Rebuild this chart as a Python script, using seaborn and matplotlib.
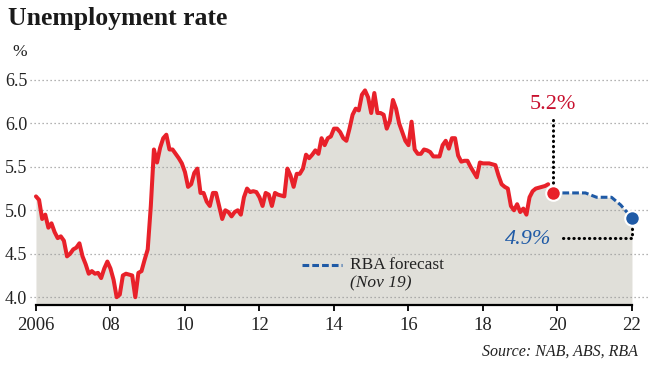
import numpy as np
import pandas as pd
import matplotlib
matplotlib.use("Agg")
import matplotlib.pyplot as plt
import seaborn as sns

# Monthly unemployment rate, Jan 2006 - Oct 2019
rate = [
    5.16, 5.12, 4.90, 4.95, 4.80, 4.85, 4.75, 4.68, 4.70, 4.65, 4.47, 4.50,  # 2006
    4.55, 4.57, 4.62, 4.47, 4.38, 4.27, 4.30, 4.27, 4.28, 4.22, 4.33, 4.41,  # 2007
    4.33, 4.20, 4.00, 4.03, 4.25, 4.27, 4.26, 4.25, 4.00, 4.28, 4.30, 4.43,  # 2008
    4.55, 5.05, 5.70, 5.55, 5.72, 5.83, 5.87, 5.70, 5.70, 5.65, 5.60, 5.54,  # 2009
    5.44, 5.27, 5.30, 5.43, 5.48, 5.20, 5.20, 5.10, 5.05, 5.20, 5.20, 5.05,  # 2010
    4.90, 5.00, 4.98, 4.93, 4.98, 5.00, 4.95, 5.15, 5.25, 5.21, 5.22, 5.21,  # 2011
    5.15, 5.05, 5.20, 5.18, 5.05, 5.20, 5.18, 5.17, 5.16, 5.48, 5.40, 5.27,  # 2012
    5.42, 5.42, 5.48, 5.64, 5.60, 5.64, 5.69, 5.65, 5.83, 5.75, 5.83, 5.85,  # 2013
    5.94, 5.94, 5.90, 5.83, 5.80, 5.94, 6.10, 6.17, 6.15, 6.33, 6.38, 6.30,  # 2014
    6.12, 6.35, 6.12, 6.12, 6.10, 5.94, 6.03, 6.27, 6.17, 6.00, 5.90, 5.80,  # 2015
    5.75, 6.02, 5.70, 5.65, 5.65, 5.70, 5.69, 5.67, 5.62, 5.62, 5.62, 5.75,  # 2016
    5.80, 5.71, 5.83, 5.83, 5.63, 5.56, 5.57, 5.57, 5.50, 5.44, 5.38, 5.55,  # 2017
    5.54, 5.54, 5.54, 5.53, 5.52, 5.40, 5.30, 5.27, 5.25, 5.05, 5.00, 5.07,  # 2018
    4.98, 5.02, 4.95, 5.15, 5.22, 5.25, 5.26, 5.27, 5.28, 5.30,              # 2019
]
dates = pd.date_range("2006-01-01", periods=len(rate), freq="MS")
years = dates.year + (dates.month - 1) / 12

# RBA forecast (Nov 19)
fc_years = [2019.87, 2020.75, 2021.05, 2021.45, 2021.7, 2021.82, 2022.0]
fc_rate = [5.2, 5.2, 5.15, 5.15, 5.06, 5.0, 4.91]

actual = pd.DataFrame({"year": years, "rate": rate})
forecast = pd.DataFrame({"year": fc_years, "rate": fc_rate})

x_ticks = list(range(2006, 2023, 2))
x_labels = ["2006", "08", "10", "12", "14", "16", "18", "20", "22"]
y_ticks = [4.0, 4.5, 5.0, 5.5, 6.0, 6.5]

RED = "#e8212a"
RED_TXT = "#c8102e"
BLUE = "#1f5aa6"
FILL = "#e0dfd9"

sns.set_theme(style="white")
plt.rcParams["font.family"] = ["Liberation Serif", "DejaVu Serif"]

fig = plt.figure(figsize=(6.5, 3.66), dpi=100)
ax = fig.add_axes([30 / 650, 61 / 366, 618 / 650, 235 / 366])

# grey area under actual + forecast
fill_x = np.concatenate([actual["year"].values, forecast["year"].values])
fill_y = np.concatenate([actual["rate"].values, forecast["rate"].values])
ax.fill_between(fill_x, 3.0, fill_y, color=FILL, lw=0, zorder=1)

for y in y_ticks:
    ax.axhline(y, color="#9a9a9a", lw=0.9, ls=(0, (1, 2.2)), zorder=2)

sns.lineplot(data=actual, x="year", y="rate", color=RED, lw=2.9, ax=ax, zorder=4)
sns.lineplot(data=forecast, x="year", y="rate", color=BLUE, lw=2.2, ax=ax, zorder=4,
             dashes=False, linestyle=(0, (2.2, 1.0)))

# dotted leader lines
ax.plot([fc_years[0], fc_years[0]], [fc_rate[0], 6.07], color="black", lw=2.2,
        ls=(0, (0.1, 1.6)), dash_capstyle="round", zorder=3)
ax.plot([2020.15, 2022.0, 2022.0], [4.68, 4.68, 4.83], color="black", lw=2.2,
        ls=(0, (0.1, 1.6)), dash_capstyle="round", zorder=3)

ax.scatter([fc_years[0]], [fc_rate[0]], s=110, color=RED, edgecolor="white", lw=1.5, zorder=6)
ax.scatter([fc_years[-1]], [fc_rate[-1]], s=110, color=BLUE, edgecolor="white", lw=1.5, zorder=6)

ax.text(fc_years[0], 6.22, "5.2%", color=RED_TXT, fontsize=16, ha="center", va="center")
ax.text(2019.2, 4.66, "4.9%", color=BLUE, fontsize=16, style="italic", ha="center", va="center")

# legend
ax.plot([2013.14, 2014.21], [4.37, 4.37], color=BLUE, lw=2.2, ls=(0, (2.2, 1.0)), zorder=4)
ax.text(2014.43, 4.37, "RBA forecast", fontsize=12.5, ha="left", va="center", color="#222222")
ax.text(2014.43, 4.16, "(Nov 19)", fontsize=12.5, style="italic", ha="left", va="center",
        color="#222222")

ax.set_xlim(2005.84, 2022.43)
ax.set_ylim(3.91, 6.615)
ax.set_xticks(x_ticks)
ax.set_xticklabels(x_labels)
ax.set_yticks(y_ticks)
ax.set_yticklabels([f"{v:.1f}" for v in y_ticks])
ax.set_xlabel("")
ax.set_ylabel("")
ax.grid(False)
for side in ["top", "right", "left"]:
    ax.spines[side].set_visible(False)
ax.spines["bottom"].set_color("black")
ax.spines["bottom"].set_linewidth(1.6)
ax.spines["bottom"].set_bounds(2006, 2022)
ax.tick_params(axis="x", length=4, width=1.3, color="black", pad=5, labelsize=13.5,
               bottom=True, labelcolor="#222222")
ax.tick_params(axis="y", length=0, pad=2, labelsize=13, labelcolor="#222222")
ax.set_facecolor("none")

fig.text(8 / 650, 1 - 19 / 366, "Unemployment rate", fontsize=18.5, fontweight="bold",
         ha="left", va="center", color="#1a1a1a")
fig.text(12 / 650, 1 - 52 / 366, "%", fontsize=12.5, ha="left", va="center", color="#222222")
fig.text(638 / 650, 1 - 352 / 366, "Source: NAB, ABS, RBA", fontsize=11.5, style="italic",
         ha="right", va="center", color="#222222")

fig.savefig("out.png", dpi=100)
